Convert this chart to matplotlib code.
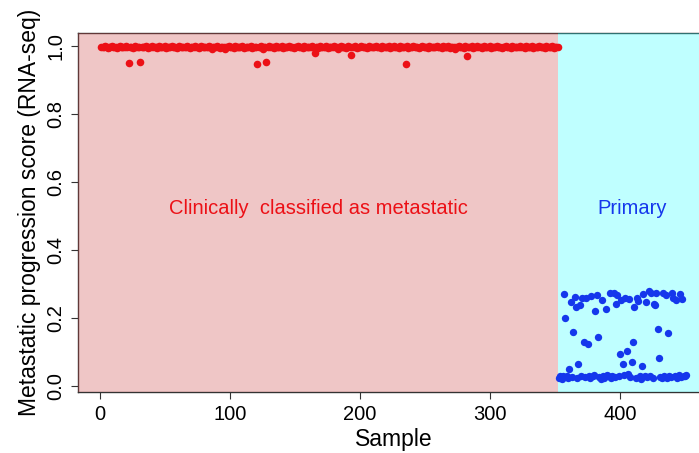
import matplotlib
matplotlib.use("Agg")
import matplotlib.pyplot as plt
import numpy as np

plt.rcParams['font.family'] = ['Liberation Sans', 'DejaVu Sans']

# scores for samples 1..352 (clinically metastatic)
metastatic_scores = [
    0.997, 0.998, 0.996, 0.999, 0.997, 0.995, 0.998, 0.997, 0.999, 0.996, 0.998, 0.997, 0.995, 0.998, 0.999, 0.997,
    0.996, 0.998, 0.997, 0.999, 0.996, 0.949, 0.998, 0.997, 0.995, 0.998, 0.999, 0.997, 0.996, 0.998, 0.953, 0.997,
    0.998, 0.996, 0.999, 0.997, 0.995, 0.998, 0.997, 0.999, 0.996, 0.997, 0.998, 0.995, 0.999, 0.997, 0.996, 0.998,
    0.997, 0.999, 0.995, 0.998, 0.996, 0.997, 0.999, 0.998, 0.996, 0.997, 0.995, 0.998, 0.999, 0.996, 0.997, 0.998,
    0.996, 0.997, 0.999, 0.998, 0.995, 0.997, 0.998, 0.996, 0.999, 0.997, 0.998, 0.995, 0.997, 0.999, 0.996, 0.998,
    0.997, 0.998, 0.996, 0.999, 0.997, 0.990, 0.998, 0.997, 0.996, 0.999, 0.998, 0.995, 0.997, 0.998, 0.996, 0.990,
    0.998, 0.997, 0.999, 0.996, 0.998, 0.997, 0.995, 0.999, 0.997, 0.998, 0.996, 0.997, 0.999, 0.998, 0.995, 0.997,
    0.996, 0.998, 0.997, 0.999, 0.995, 0.997, 0.998, 0.996, 0.946, 0.998, 0.997, 0.999, 0.990, 0.996, 0.998, 0.953,
    0.997, 0.999, 0.996, 0.998, 0.997, 0.995, 0.999, 0.998, 0.996, 0.997, 0.998, 0.999, 0.995, 0.997, 0.998, 0.996,
    0.999, 0.997, 0.998, 0.996, 0.995, 0.998, 0.997, 0.999, 0.996, 0.998, 0.997, 0.995, 0.999, 0.998, 0.997, 0.996,
    0.998, 0.997, 0.999, 0.996, 0.980, 0.998, 0.997, 0.995, 0.999, 0.998, 0.996, 0.997, 0.998, 0.999, 0.995, 0.997,
    0.996, 0.998, 0.997, 0.999, 0.996, 0.998, 0.990, 0.997, 0.999, 0.996, 0.998, 0.997, 0.995, 0.998, 0.999, 0.997,
    0.973, 0.998, 0.996, 0.999, 0.997, 0.995, 0.998, 0.997, 0.999, 0.996, 0.998, 0.997, 0.995, 0.998, 0.999, 0.997,
    0.996, 0.998, 0.997, 0.999, 0.996, 0.997, 0.998, 0.995, 0.999, 0.997, 0.996, 0.998, 0.997, 0.999, 0.995, 0.998,
    0.997, 0.999, 0.996, 0.998, 0.997, 0.995, 0.999, 0.998, 0.996, 0.997, 0.948, 0.999, 0.995, 0.997, 0.998, 0.996,
    0.999, 0.997, 0.998, 0.996, 0.995, 0.998, 0.997, 0.999, 0.996, 0.998, 0.997, 0.995, 0.999, 0.998, 0.997, 0.996,
    0.998, 0.997, 0.999, 0.996, 0.997, 0.998, 0.995, 0.999, 0.996, 0.998, 0.997, 0.999, 0.995, 0.997, 0.998, 0.996,
    0.990, 0.998, 0.997, 0.999, 0.996, 0.997, 0.998, 0.995, 0.999, 0.971, 0.996, 0.998, 0.997, 0.999, 0.995, 0.998,
    0.997, 0.999, 0.996, 0.998, 0.997, 0.995, 0.999, 0.998, 0.996, 0.997, 0.998, 0.999, 0.995, 0.997, 0.998, 0.996,
    0.999, 0.997, 0.998, 0.996, 0.995, 0.998, 0.997, 0.999, 0.996, 0.998, 0.997, 0.995, 0.999, 0.998, 0.997, 0.996,
    0.998, 0.997, 0.999, 0.996, 0.997, 0.998, 0.995, 0.999, 0.996, 0.998, 0.997, 0.999, 0.995, 0.997, 0.998, 0.996,
    0.997, 0.999, 0.996, 0.998, 0.997, 0.995, 0.999, 0.998, 0.996, 0.997, 0.998, 0.999, 0.995, 0.997, 0.998, 0.996,
]

# scores for samples 353..451 (primary)
primary_scores = [
    0.025, 0.030, 0.022, 0.028, 0.270, 0.199, 0.030, 0.025, 0.049, 0.248,
    0.027, 0.158, 0.263, 0.233, 0.024, 0.065, 0.238, 0.028, 0.258, 0.129,
    0.026, 0.258, 0.125, 0.030, 0.024, 0.265, 0.028, 0.032, 0.222, 0.268,
    0.145, 0.027, 0.022, 0.253, 0.030, 0.025, 0.225, 0.033, 0.028, 0.274,
    0.024, 0.030, 0.273, 0.027, 0.241, 0.268, 0.029, 0.093, 0.253, 0.065,
    0.031, 0.258, 0.103, 0.036, 0.255, 0.027, 0.072, 0.130, 0.231, 0.025,
    0.258, 0.251, 0.030, 0.022, 0.059, 0.270, 0.028, 0.248, 0.026, 0.280,
    0.030, 0.273, 0.024, 0.241, 0.238, 0.274, 0.169, 0.083, 0.027, 0.025,
    0.274, 0.030, 0.268, 0.023, 0.157, 0.028, 0.026, 0.273, 0.258, 0.030,
    0.253, 0.024, 0.032, 0.270, 0.026, 0.255, 0.030, 0.028, 0.033,
]

x_ticks = [0, 100, 200, 300, 400]
y_ticks = [0.0, 0.2, 0.4, 0.6, 0.8, 1.0]

n_met = len(metastatic_scores)
n_all = n_met + len(primary_scores)
x_met = np.arange(1, n_met + 1)
x_pri = np.arange(n_met + 1, n_all + 1)

xlim = (-17.1, 469.2)
ylim = (-0.0176, 1.038)

fig = plt.figure(figsize=(6.99, 4.53), dpi=100)
left, bottom, top = 77.8 / 699, 61 / 453, 420 / 453
right = (100 + 469.2 * 1.3) / 699
ax = fig.add_axes([left, bottom, right - left, top - bottom])

ax.axvspan(xlim[0], n_met + 0.5, color=(0.8, 0.267, 0.267), alpha=0.3, lw=0, zorder=3)
ax.axvspan(n_met + 0.5, xlim[1], color=(0.17, 1.0, 1.0), alpha=0.3, lw=0, zorder=3)

ax.scatter(x_met, metastatic_scores, s=30, color='#ec1016', lw=0, zorder=4)
ax.scatter(x_pri, primary_scores, s=28, color='#1537ec', lw=0, zorder=4)

ax.text(168, 0.523, "Clinically  classified as metastatic", color='#ec1016',
        fontsize=14.5, ha='center', va='center', zorder=5)
ax.text(409, 0.523, "Primary", color='#1537ec', fontsize=14.5,
        ha='center', va='center', zorder=5)

ax.set_xlim(*xlim)
ax.set_ylim(*ylim)
ax.set_xticks(x_ticks)
ax.set_yticks(y_ticks)
ax.set_xticklabels([str(t) for t in x_ticks], fontsize=14.5)
ax.set_yticklabels([f"{t:.1f}" for t in y_ticks], fontsize=14.5, rotation=90, va='center')
ax.tick_params(direction='out', length=5, width=0.8, color='#333333', pad=4)

for sp in ax.spines.values():
    sp.set_color('#333333')
    sp.set_linewidth(1.0)

ax.set_xlabel("Sample", fontsize=16.5, labelpad=3)
ax.set_ylabel("Metastatic progression score (RNA-seq)", fontsize=16.5, labelpad=4)

fig.savefig("out.png", dpi=100)
